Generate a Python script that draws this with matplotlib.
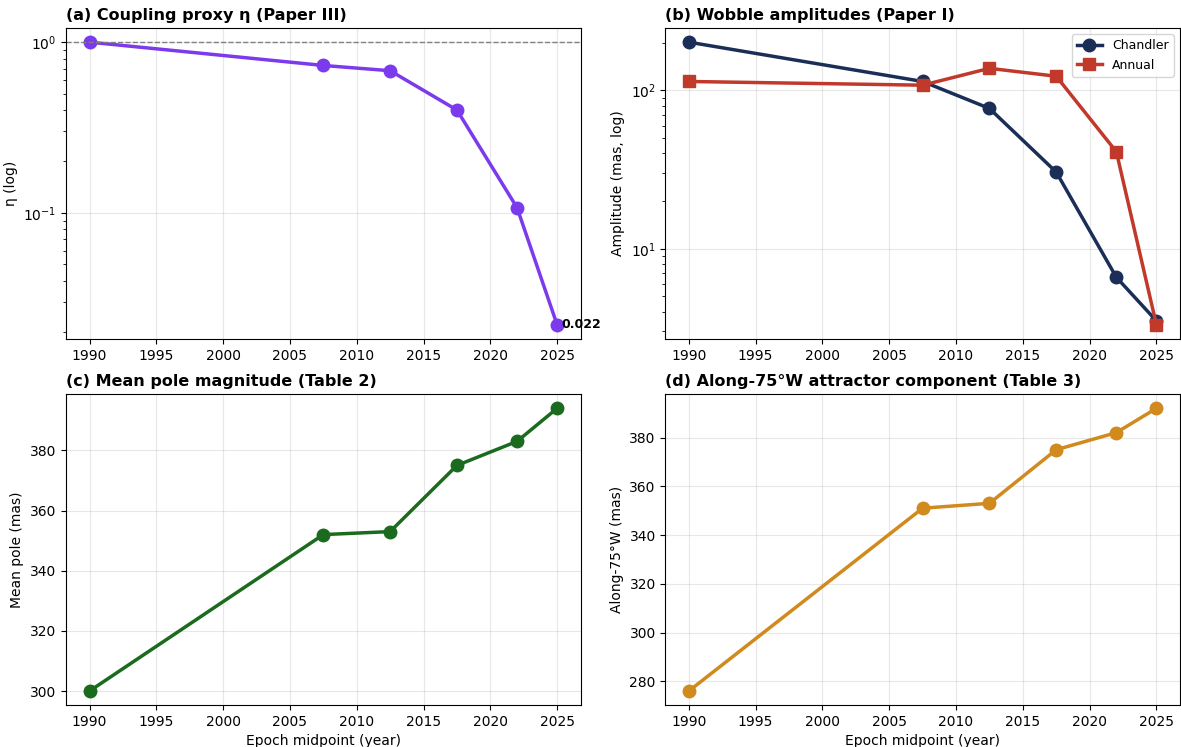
import matplotlib
matplotlib.use('Agg')
import matplotlib.pyplot as plt

years = [1990, 2007.5, 2012.5, 2017.5, 2022, 2025]
eta = [1.0, 0.73, 0.68, 0.40, 0.107, 0.022]
chandler = [202, 114, 77, 30.5, 6.6, 3.5]
annual = [114, 108, 138, 123, 41, 3.3]
mean_pole = [300, 352, 353, 375, 383, 394]
along_75w = [276, 351, 353, 375, 382, 392]


def main():
    fig, axes = plt.subplots(2, 2, figsize=(11.81, 7.47), dpi=100)
    ax_a, ax_b, ax_c, ax_d = axes.flat
    title_kw = dict(loc='left', fontweight='bold', fontsize=11.5)

    # (a) coupling proxy
    ax_a.plot(years, eta, '-o', color='#7c3aed', lw=2.5, ms=9)
    ax_a.axhline(1.0, color='grey', ls='--', lw=1)
    ax_a.set_yscale('log')
    ax_a.annotate(f'{eta[-1]:.3f}', (years[-1], eta[-1]), xytext=(3, 0),
                  textcoords='offset points', va='center', ha='left',
                  fontsize=9, fontweight='bold')
    ax_a.set_ylabel('η (log)')
    ax_a.set_title('(a) Coupling proxy η (Paper III)', **title_kw)

    # (b) wobble amplitudes
    ax_b.plot(years, chandler, '-o', color='#1a2e57', lw=2.5, ms=9, label='Chandler')
    ax_b.plot(years, annual, '-s', color='#c0392b', lw=2.5, ms=9, label='Annual')
    ax_b.set_yscale('log')
    ax_b.set_ylabel('Amplitude (mas, log)')
    ax_b.legend(loc='upper right', fontsize=9)
    ax_b.set_title('(b) Wobble amplitudes (Paper I)', **title_kw)

    # (c) mean pole
    ax_c.plot(years, mean_pole, '-o', color='#1b6b1f', lw=2.5, ms=9)
    ax_c.set_ylabel('Mean pole (mas)')
    ax_c.set_xlabel('Epoch midpoint (year)')
    ax_c.set_title('(c) Mean pole magnitude (Table 2)', **title_kw)

    # (d) attractor component
    ax_d.plot(years, along_75w, '-o', color='#d08a1e', lw=2.5, ms=9)
    ax_d.set_ylabel('Along-75°W (mas)')
    ax_d.set_xlabel('Epoch midpoint (year)')
    ax_d.set_title('(d) Along-75°W attractor component (Table 3)', **title_kw)

    for ax in axes.flat:
        ax.grid(True, alpha=0.3)
        ax.set_xticks(range(1990, 2026, 5))

    fig.subplots_adjust(left=0.056, right=0.999, top=0.9625, bottom=0.056,
                        wspace=0.165, hspace=0.177)
    fig.savefig('out.png')


if __name__ == '__main__':
    main()
